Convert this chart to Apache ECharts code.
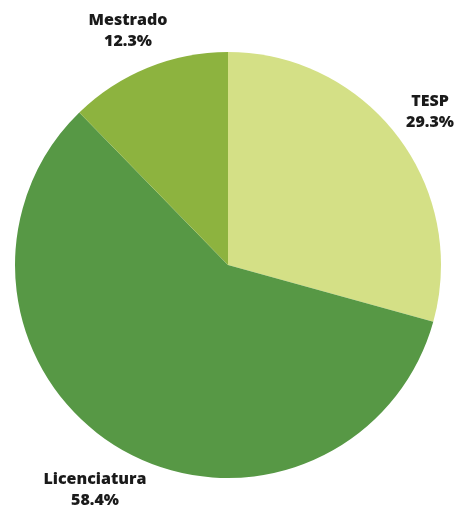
<!DOCTYPE html>
<html><head><meta charset="utf-8">
<script src="https://cdn.jsdelivr.net/npm/echarts@6/dist/echarts.min.js"></script>
<style>html,body{margin:0;padding:0;background:#fff}#c{width:461px;height:508px}</style>
</head><body><div id="c"></div>
<script>
const categories = ['TESP', 'Licenciatura', 'Mestrado'];
const values = [29.3, 58.4, 12.3];
const colors = ['#d4e086', '#579845', '#8db33f'];
const labelPos = [[430, 112], [95, 490], [128, 31]];

const chart = echarts.init(document.getElementById('c'), null, {renderer: 'canvas'});
chart.setOption({
  animation: false,
  series: [{
    type: 'pie',
    center: [228, 265],
    radius: 213,
    startAngle: 90,
    clockwise: true,
    avoidLabelOverlap: false,
    data: categories.map((n, i) => ({name: n, value: values[i], itemStyle: {color: colors[i]}})),
    label: {
      show: true,
      position: 'outside',
      alignTo: 'none',
      overflow: 'none',
      formatter: p => p.name + '\n' + p.value.toFixed(1) + '%',
      fontFamily: 'Open Sans',
      fontWeight: 800,
      fontSize: 16,
      lineHeight: 21,
      color: '#1a1a1a',
      align: 'center'
    },
    labelLine: {show: false},
    labelLayout: p => ({x: labelPos[p.dataIndex][0], y: labelPos[p.dataIndex][1], align: 'center', verticalAlign: 'middle', hideOverlap: false}),
    emphasis: {disabled: true}
  }]
});
</script></body></html>
